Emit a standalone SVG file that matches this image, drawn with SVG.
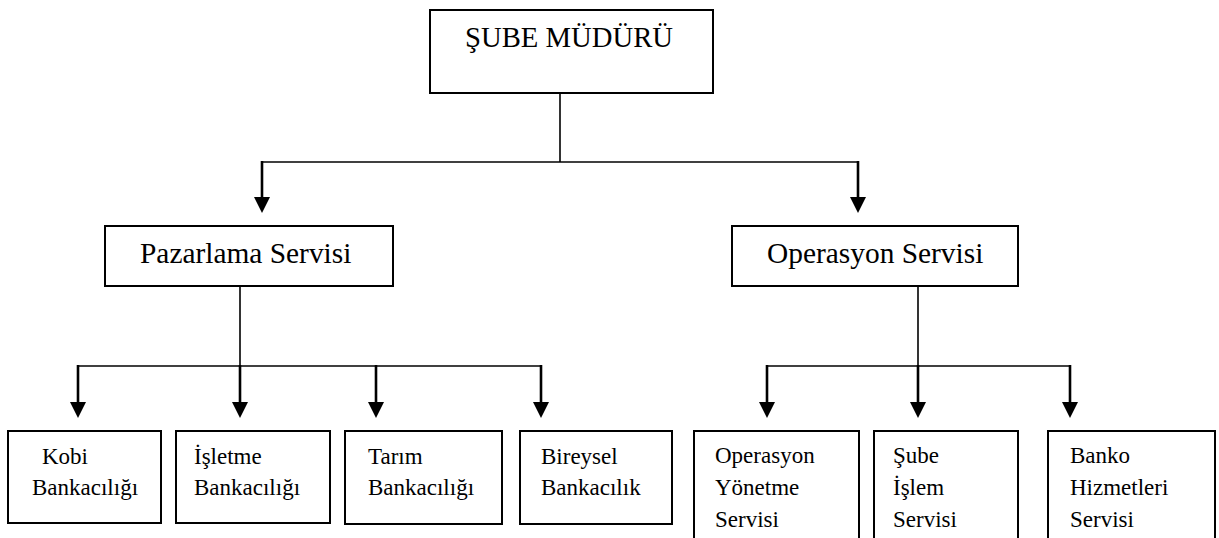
<svg xmlns="http://www.w3.org/2000/svg" width="1219" height="538" viewBox="0 0 1219 538">
  <style>
    .box { fill: #ffffff; stroke: #000000; stroke-width: 2; }
    .t { font-family: "Liberation Serif", "Times New Roman", serif; fill: #000000; }
    .top { font-size: 28.7px; }
    .mid { font-size: 29.4px; }
    .small { font-size: 23px; }
    .stem { fill: none; stroke: #000000; stroke-width: 1.6; }
    .arr { fill: none; stroke: #000000; stroke-width: 2.6; }
  </style>
  <defs>
    <marker id="ah" viewBox="0 0 16 16" refX="8" refY="8" markerWidth="16" markerHeight="16" markerUnits="userSpaceOnUse" orient="auto">
      <path d="M0,0 L16,8 L0,16 Z" fill="#000000"/>
    </marker>
  </defs>
  <rect width="1219" height="538" fill="#ffffff"/>

  <g id="connectors">
    <path class="stem" d="M560,93 V162"/>
    <path class="stem" d="M262,162 H858"/>
    <path class="arr" d="M262,161 V205" marker-end="url(#ah)"/>
    <path class="arr" d="M858,161 V205" marker-end="url(#ah)"/>
    <path class="stem" d="M240,286 V366"/>
    <path class="stem" d="M78,366 H541"/>
    <path class="arr" d="M78,365 V410" marker-end="url(#ah)"/>
    <path class="arr" d="M240,365 V410" marker-end="url(#ah)"/>
    <path class="arr" d="M376,365 V410" marker-end="url(#ah)"/>
    <path class="arr" d="M541,365 V410" marker-end="url(#ah)"/>
    <path class="stem" d="M918,286 V366"/>
    <path class="stem" d="M767,366 H1070"/>
    <path class="arr" d="M767,365 V410" marker-end="url(#ah)"/>
    <path class="arr" d="M918,365 V410" marker-end="url(#ah)"/>
    <path class="arr" d="M1070,365 V410" marker-end="url(#ah)"/>
  </g>

  <g id="sube-muduru">
    <rect class="box" x="430" y="10" width="283" height="83"/>
    <text class="t top" x="465" y="47">ŞUBE MÜDÜRÜ</text>
  </g>

  <g id="pazarlama-servisi">
    <rect class="box" x="105" y="226" width="288" height="60"/>
    <text class="t mid" x="140" y="263">Pazarlama Servisi</text>
  </g>

  <g id="operasyon-servisi">
    <rect class="box" x="732" y="226" width="286" height="60"/>
    <text class="t mid" x="767" y="263">Operasyon Servisi</text>
  </g>

  <g id="kobi-bankaciligi">
    <rect class="box" x="8" y="431" width="153" height="92"/>
    <text class="t small" x="42" y="464">Kobi</text>
    <text class="t small" x="32" y="495">Bankacılığı</text>
  </g>

  <g id="isletme-bankaciligi">
    <rect class="box" x="176" y="431" width="154" height="92"/>
    <text class="t small" x="194" y="464">İşletme</text>
    <text class="t small" x="194" y="495">Bankacılığı</text>
  </g>

  <g id="tarim-bankaciligi">
    <rect class="box" x="345" y="431" width="157" height="93"/>
    <text class="t small" x="368" y="464">Tarım</text>
    <text class="t small" x="368" y="495">Bankacılığı</text>
  </g>

  <g id="bireysel-bankacilik">
    <rect class="box" x="520" y="431" width="152" height="93"/>
    <text class="t small" x="541" y="464">Bireysel</text>
    <text class="t small" x="541" y="495">Bankacılık</text>
  </g>

  <g id="operasyon-yonetme-servisi">
    <rect class="box" x="694" y="431" width="165" height="120"/>
    <text class="t small" x="715" y="463">Operasyon</text>
    <text class="t small" x="715" y="495">Yönetme</text>
    <text class="t small" x="715" y="527">Servisi</text>
  </g>

  <g id="sube-islem-servisi">
    <rect class="box" x="874" y="431" width="144" height="120"/>
    <text class="t small" x="893" y="463">Şube</text>
    <text class="t small" x="893" y="495">İşlem</text>
    <text class="t small" x="893" y="527">Servisi</text>
  </g>

  <g id="banko-hizmetleri-servisi">
    <rect class="box" x="1048" y="431" width="167" height="120"/>
    <text class="t small" x="1070" y="463">Banko</text>
    <text class="t small" x="1070" y="495">Hizmetleri</text>
    <text class="t small" x="1070" y="527">Servisi</text>
  </g>
</svg>
